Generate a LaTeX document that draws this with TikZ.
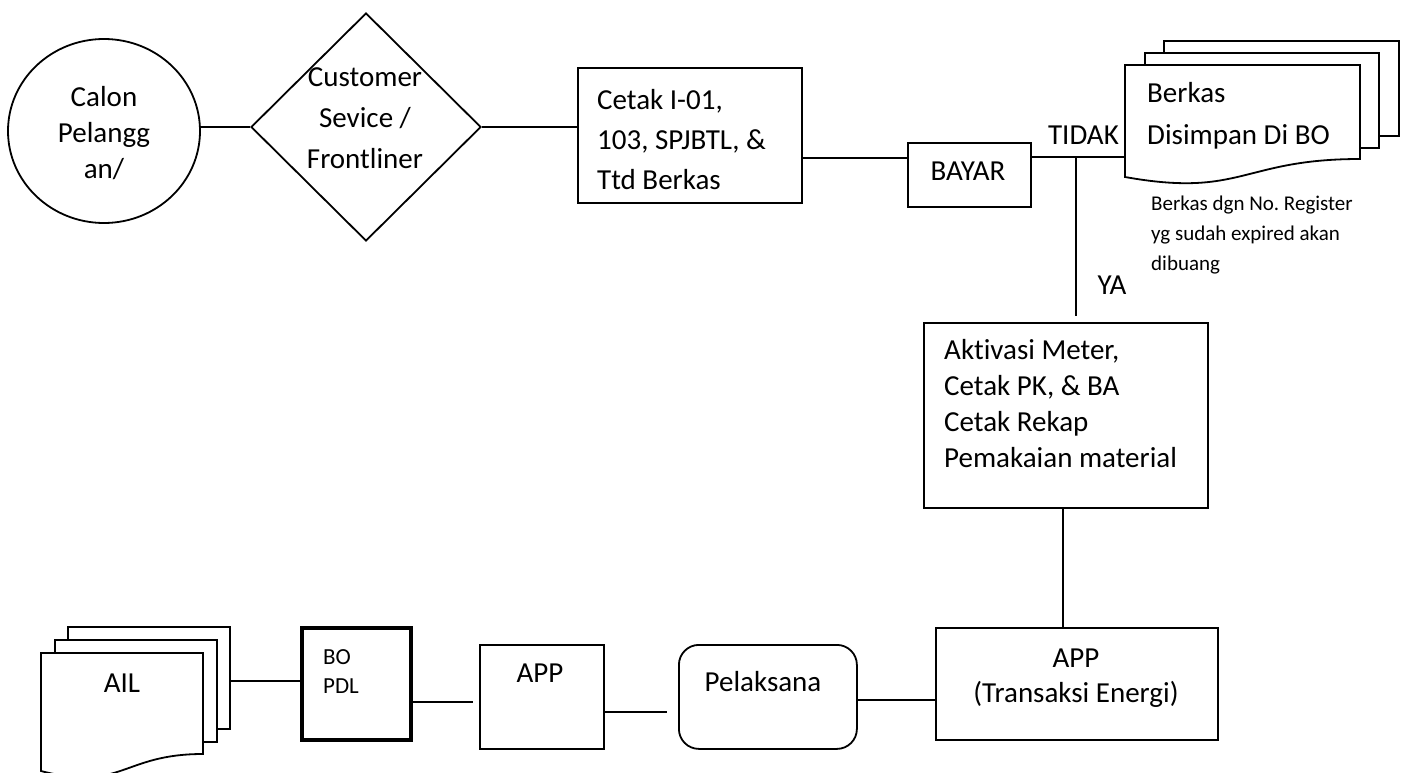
\documentclass[tikz,border=0pt]{standalone}
\usepackage{fontspec}
\setmainfont{Carlito}[Ligatures=NoCommon]
\usetikzlibrary{shapes.geometric}

% struts that fix the first baseline of each text block
\newcommand{\bigstrut}{\rule{0pt}{24pt}}
\newcommand{\midstrut}{\rule{0pt}{19pt}}
\newcommand{\smallstrut}{\rule{0pt}{17pt}}

\begin{document}
\frenchspacing
\begin{tikzpicture}[x=1pt,y=-1pt,
  ln/.style={line width=1.8pt},
  shapebox/.style={draw, line width=1.8pt, inner sep=0pt, anchor=north west, fill=white},
  holder/.style={inner sep=0pt, anchor=north west},
  lbl/.style={inner sep=0pt, font=\fontsize{29pt}{40pt}\selectfont},
]
\useasboundingbox (0,0) rectangle (1408,773);
\clip (0,0) rectangle (1408,773);

% ---------- top row ----------
\node[draw, ellipse, line width=1.8pt, inner sep=0pt,
      minimum width=192pt, minimum height=184pt] (calon) at (104,131) {};
\node[draw, diamond, line width=1.8pt, inner sep=0pt,
      minimum width=230pt, minimum height=228pt] (cs) at (366,127) {};
\node[shapebox, minimum width=224pt, minimum height=135pt] (cetak) at (577,67) {};
\node[shapebox, minimum width=123pt, minimum height=64pt] (bayar) at (907,142) {};

% stacked documents: Berkas
\node[shapebox, minimum width=235pt, minimum height=95pt] (berkas3) at (1163,40) {};
\node[shapebox, minimum width=234pt, minimum height=95pt] (berkas2) at (1144,52) {};
\node[holder, minimum width=235pt, minimum height=120pt] (berkas) at (1125,65) {};
\draw[ln, fill=white] (1125,65) -- (1360,65) -- (1360,159)
  .. controls (1242,159) and (1242,198) .. (1125,177) -- cycle;

% ---------- middle ----------
\node[shapebox, minimum width=284pt, minimum height=185pt] (aktiv) at (923,322) {};
\coordinate (jn) at (1076,157);

% ---------- bottom row ----------
\node[shapebox, minimum width=282pt, minimum height=112pt] (apptr) at (935,627) {};
\node[shapebox, rounded corners=20pt, minimum width=178pt, minimum height=104pt] (pel) at (678,644) {};
\node[shapebox, minimum width=124pt, minimum height=104pt] (app) at (479,644) {};
\node[shapebox, line width=4pt, minimum width=109pt, minimum height=112pt] (bopdl) at (300,626) {};

% stacked documents: AIL
\node[shapebox, minimum width=162pt, minimum height=102pt] (ail3) at (67,626) {};
\node[shapebox, minimum width=162pt, minimum height=102pt] (ail2) at (54,639) {};
\node[holder, minimum width=162pt, minimum height=126pt] (ail) at (41,653) {};
\draw[ln, fill=white] (41,653) -- (203,653) -- (203,754)
  .. controls (122,754) and (122,792) .. (41,771) -- cycle;

% ---------- connectors ----------
\draw[ln] (cs.west) -- (cs.west -| calon.east);
\draw[ln] (cs.east) -- (cs.east -| cetak.west);
\draw[ln] (cetak.east |- 0,158) -- (bayar.west |- 0,158);
\draw[ln] (bayar.east |- 0,157) -- (berkas.west |- 0,157);
\draw[ln, shorten >=6pt] (jn) -- (jn |- aktiv.north);
\draw[ln] (aktiv.south -| 1063,0) -- (apptr.north -| 1063,0);
\draw[ln] (pel.east |- 0,700) -- (apptr.west |- 0,700);
\draw[ln, shorten >=11pt] (app.east |- 0,712) -- (pel.west |- 0,712);
\draw[ln, shorten >=6pt] (bopdl.east |- 0,702) -- (app.west |- 0,702);
\draw[ln] (ail3.east |- 0,681) -- (bopdl.west |- 0,681);

% ---------- texts ----------
\node[lbl, align=center, anchor=north, font=\fontsize{29pt}{36pt}\selectfont]
  (tcalon) at (104,82) {\bigstrut Calon\\Pelangg\\an/};
\node[lbl, align=center, anchor=north, font=\fontsize{29pt}{41pt}\selectfont]
  (tcs) at (365,62) {\bigstrut Customer\\Sevice /\\Frontliner};
\node[lbl, align=left, anchor=north west, font=\fontsize{29pt}{40pt}\selectfont]
  (tcetak) at (597,85) {\bigstrut Cetak I-01,\\103, SPJBTL, \&\\Ttd Berkas};
\node[lbl, anchor=base] (tbayar) at (968,180) {BAYAR};
\node[lbl, anchor=base east] (ttidak) at (1119,145) {TIDAK};
\node[lbl, align=left, anchor=north west, font=\fontsize{29pt}{42pt}\selectfont]
  (tberkas) at (1147,78) {\bigstrut Berkas\\Disimpan Di BO};
\node[inner sep=0pt, align=left, anchor=north west, font=\fontsize{21pt}{30pt}\selectfont]
  (tnote) at (1151,193) {\smallstrut Berkas dgn No. Register\\yg sudah expired akan\\dibuang};
\node[lbl, anchor=base] (tya) at (1112,294) {YA};
\node[lbl, align=left, anchor=north west, font=\fontsize{29pt}{36pt}\selectfont]
  (taktiv) at (944,335) {\bigstrut Aktivasi Meter,\\Cetak PK, \& BA\\Cetak Rekap\\Pemakaian material};
\node[lbl, align=center, anchor=north, font=\fontsize{29pt}{35pt}\selectfont]
  (tapptr) at (1076,643) {\bigstrut APP\\(Transaksi Energi)};
\node[lbl, anchor=base] (tpel) at (763,691) {Pelaksana};
\node[lbl, anchor=base] (tapp) at (540,682) {APP};
\node[inner sep=0pt, align=left, anchor=north west, font=\fontsize{23pt}{29pt}\selectfont]
  (tbopdl) at (323,645) {\midstrut BO\\PDL};
\node[lbl, anchor=base] (tail) at (122,692) {AIL};
\end{tikzpicture}
\end{document}
